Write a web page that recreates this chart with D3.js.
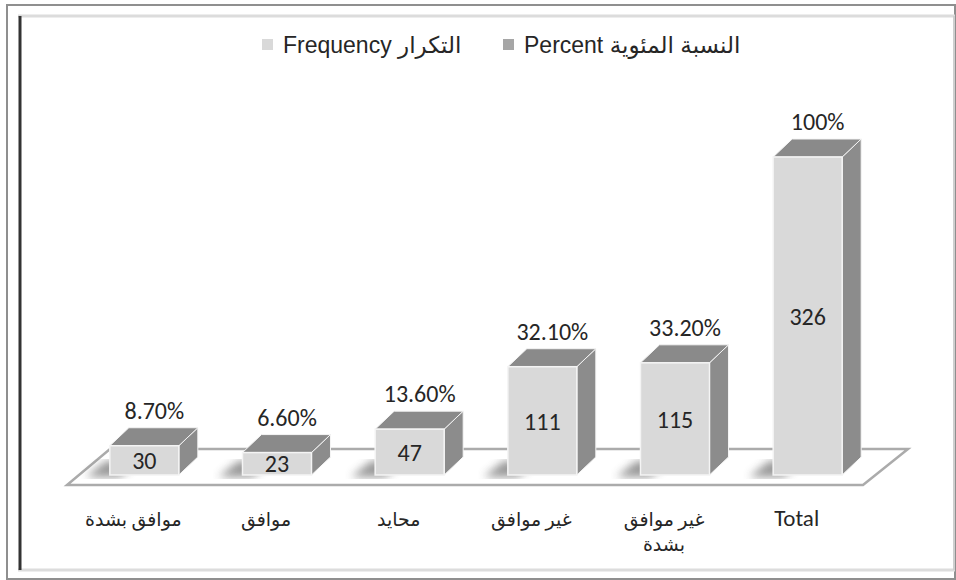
<!DOCTYPE html>
<html>
<head>
<meta charset="utf-8">
<script src="https://cdn.jsdelivr.net/npm/d3@7"></script>
<style>
body { margin: 0; background: #fff; }
svg text { font-family: Calibri, Lato, "Open Sans", sans-serif; fill: #262626; }
.cat { font-family: Calibri, Lato, "DejaVu Sans", sans-serif; }
.leg { font-family: "Liberation Sans Narrow", "Liberation Sans", "DejaVu Sans", sans-serif; }
</style>
</head>
<body>
<svg width="956" height="580"></svg>
<script>
var categories = [["موافق بشدة"], ["موافق"], ["محايد"], ["غير موافق"], ["غير موافق", "بشدة"], ["Total"]];
var frequency = [30, 23, 47, 111, 115, 326];
var percent = [0.087, 0.066, 0.136, 0.321, 0.332, 1.0];
var legendNames = ["Frequency التكرار", "Percent النسبة المئوية"];

var svg = d3.select("svg"),
    width = +svg.attr("width"),
    height = +svg.attr("height");

var frontCol = "#d9d9d9", sideCol = "#8c8c8c", topCol = "#8a8a8a";
var dx = 19, dy = -18;

// frame
svg.append("rect").attr("x", 7).attr("y", 5).attr("width", 948).attr("height", 574)
  .style("fill", "none").style("stroke", "#8f8f8f").style("stroke-width", 2);
svg.append("line").attr("x1", 18).attr("x2", 955).attr("y1", 16).attr("y2", 16)
  .style("stroke", "#dcdcdc").style("stroke-width", 3);
svg.append("line").attr("x1", 18).attr("x2", 955).attr("y1", 570).attr("y2", 570)
  .style("stroke", "#dcdcdc").style("stroke-width", 3);
svg.append("line").attr("x1", 954).attr("x2", 954).attr("y1", 16).attr("y2", 570)
  .style("stroke", "#cfcfcf").style("stroke-width", 2);
svg.append("line").attr("x1", 20).attr("x2", 20).attr("y1", 16).attr("y2", 570)
  .style("stroke", "#333").style("stroke-width", 3);

var idx = d3.range(categories.length);
var x = d3.scaleBand().domain(idx).range([78, 874]).paddingInner(0.48).paddingOuter(0.24);
var y = d3.scaleLinear().domain([0, 326]).range([475, 157]);

// floor
var y0 = y(0);
var floor = [[78 - 11, y0 + 10], [874 - 11, y0 + 10], [874 + 34, y0 - 26], [78 + 32, y0 - 26]];
svg.append("polygon").attr("points", floor.map(function(p) { return p.join(","); }).join(" "))
  .style("fill", "#fff").style("stroke", "#ababab").style("stroke-width", 2.5);

var defs = svg.append("defs");
defs.append("filter").attr("id", "blur").append("feGaussianBlur").attr("stdDeviation", 4);

// shadows
svg.append("g").selectAll("polygon").data(idx).enter().append("polygon")
  .attr("points", function(i) {
    var l = x(i);
    return [[l - 24, y0 + 2], [l + 10, y0 + 2], [l + 10 + dx, y0 + dy + 4], [l - 4, y0 + dy + 4]].map(function(p) { return p.join(","); }).join(" ");
  })
  .style("fill", "#555").style("opacity", 0.6).attr("filter", "url(#blur)");

var bars = svg.append("g").selectAll("g").data(idx).enter().append("g");

bars.append("polygon")
  .attr("points", function(i) {
    var r = x(i) + x.bandwidth(), t = y(frequency[i]);
    return [[r, t], [r + dx, t + dy], [r + dx, y0 + dy], [r, y0]].map(function(p) { return p.join(","); }).join(" ");
  })
  .style("fill", sideCol).style("stroke", "#f4f4f4").style("stroke-width", 1);

bars.append("polygon")
  .attr("points", function(i) {
    var l = x(i), r = l + x.bandwidth(), t = y(frequency[i]);
    return [[l, t], [r, t], [r + dx, t + dy], [l + dx, t + dy]].map(function(p) { return p.join(","); }).join(" ");
  })
  .style("fill", topCol).style("stroke", "#f4f4f4").style("stroke-width", 1);

bars.append("rect")
  .attr("x", function(i) { return x(i); })
  .attr("y", function(i) { return y(frequency[i]); })
  .attr("width", x.bandwidth())
  .attr("height", function(i) { return y0 - y(frequency[i]); })
  .style("fill", frontCol).style("stroke", "#f4f4f4").style("stroke-width", 1.5);

// frequency labels
bars.append("text")
  .attr("x", function(i) { return x(i) + x.bandwidth() / 2; })
  .attr("y", function(i) { return (y(frequency[i]) + y0) / 2; })
  .attr("dy", "0.36em")
  .attr("text-anchor", "middle")
  .style("font-size", "24px")
  .text(function(i) { return frequency[i]; });

// percent labels
var fmt = d3.format(".2%");
bars.append("text")
  .attr("x", function(i) { return x(i) + x.bandwidth() / 2 + 10; })
  .attr("y", function(i) { return y(frequency[i]) + dy - 9; })
  .attr("text-anchor", "middle")
  .style("font-size", "24px")
  .text(function(i) { return percent[i] === 1 ? "100%" : fmt(percent[i]); });

// category labels
var cats = svg.append("g").selectAll("text").data(idx).enter().append("text")
  .attr("class", "cat")
  .attr("text-anchor", "middle")
  .attr("x", function(i) { return x(i) + x.bandwidth() / 2 - 11; })
  .attr("y", 526);
cats.selectAll("tspan").data(function(i) { return categories[i]; }).enter().append("tspan")
  .attr("x", function() { var i = d3.select(this.parentNode).datum(); return x(i) + x.bandwidth() / 2 - 11; })
  .attr("dy", function(d, j) { return j === 0 ? 0 : 25; })
  .style("font-size", function(d) { return /[A-Za-z]/.test(d) ? "23px" : "19px"; })
  .text(function(d) { return d; });

// legend
var legX = [262, 503], legCol = [frontCol, "#a6a6a6"];
legendNames.forEach(function(name, k) {
  svg.append("rect").attr("x", legX[k]).attr("y", 39).attr("width", 11).attr("height", 11).style("fill", legCol[k]);
  svg.append("text").attr("class", "leg").attr("x", legX[k] + 21).attr("y", 53)
    .style("font-size", "23px").text(name);
});
</script>
</body>
</html>
